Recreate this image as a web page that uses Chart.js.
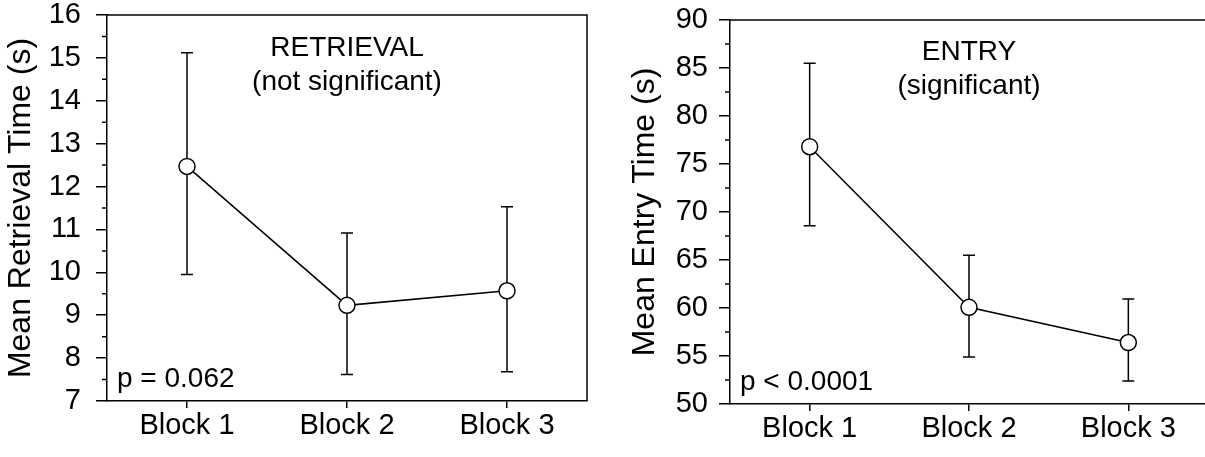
<!DOCTYPE html>
<html>
<head>
<meta charset="utf-8">
<script src="https://cdn.jsdelivr.net/npm/chart.js@4/dist/chart.umd.min.js"></script>
<style>
  html, body { margin: 0; padding: 0; background: #fff; overflow: hidden; width: 1205px; height: 457px; }
  canvas { position: absolute; top: 0; }
  #retrieval { left: 0; }
  #entry { left: 600px; }
</style>
</head>
<body>
<canvas id="retrieval" width="600" height="457"></canvas>
<canvas id="entry" width="620" height="457"></canvas>
<script>
// Categories
const blocks = ['Block 1', 'Block 2', 'Block 3'];

// Retrieval time (s): mean and error-bar ends
const retrievalMean  = [12.47, 9.23, 9.57];
const retrievalUpper = [15.12, 10.92, 11.53];
const retrievalLower = [9.95, 7.62, 7.68];

// Entry time (s): mean and error-bar ends
const entryMean  = [76.8, 60.07, 56.4];
const entryUpper = [85.5, 65.5, 60.94];
const entryLower = [68.57, 54.9, 52.4];

// Labelled y ticks
const retrievalTicks = [7, 8, 9, 10, 11, 12, 13, 14, 15, 16];
const entryTicks = [50, 55, 60, 65, 70, 75, 80, 85, 90];

const FONT = '"Liberation Sans", Arial, Helvetica, sans-serif';
Chart.defaults.color = '#000';
Chart.defaults.font.family = FONT;

// Error bars, plot frame, minor ticks and in-panel notes
const panelPlugin = {
  id: 'panel',
  beforeDatasetsDraw(chart, args, o) {
    const { ctx, scales: { x, y } } = chart;
    ctx.save();
    ctx.strokeStyle = '#000';
    ctx.lineWidth = 1.5;
    o.upper.forEach((hi, i) => {
      const px = x.getPixelForValue(i);
      const yHi = y.getPixelForValue(hi);
      const yLo = y.getPixelForValue(o.lower[i]);
      ctx.beginPath();
      ctx.moveTo(px, yHi); ctx.lineTo(px, yLo);
      ctx.moveTo(px - 6, yHi); ctx.lineTo(px + 6, yHi);
      ctx.moveTo(px - 6, yLo); ctx.lineTo(px + 6, yLo);
      ctx.stroke();
    });
    ctx.restore();
  },
  afterDraw(chart, args, o) {
    const { ctx, chartArea: a, scales: { y } } = chart;
    ctx.save();
    ctx.strokeStyle = '#000';
    ctx.lineWidth = 1.5;
    // top and right edges of the frame
    ctx.beginPath();
    ctx.moveTo(a.left, a.top);
    ctx.lineTo(a.right, a.top);
    ctx.lineTo(a.right, a.bottom);
    ctx.stroke();
    // short minor ticks halfway between labelled ticks
    ctx.beginPath();
    for (let i = 0; i < o.ticks.length - 1; i++) {
      const py = y.getPixelForValue((o.ticks[i] + o.ticks[i + 1]) / 2);
      ctx.moveTo(a.left - 5, py);
      ctx.lineTo(a.left, py);
    }
    ctx.stroke();
    // notes
    ctx.fillStyle = '#000';
    ctx.font = '28px ' + FONT;
    ctx.textAlign = 'center';
    ctx.textBaseline = 'middle';
    const cx = (a.left + a.right) / 2;
    ctx.fillText(o.heading, cx, a.top + o.headingY);
    ctx.fillText(o.sub, cx, a.top + o.headingY + 34);
    ctx.textAlign = 'left';
    ctx.fillText(o.pText, a.left + 10, a.bottom - 22);
    ctx.restore();
  }
};

function makePanel(id, cfg) {
  return new Chart(document.getElementById(id), {
    type: 'line',
    data: {
      labels: blocks,
      datasets: [{
        data: cfg.mean,
        borderColor: '#000',
        borderWidth: 1.5,
        tension: 0,
        pointRadius: 8,
        pointHoverRadius: 8,
        pointBackgroundColor: '#fff',
        pointBorderColor: '#000',
        pointBorderWidth: 1.5
      }]
    },
    plugins: [panelPlugin],
    options: {
      responsive: false,
      animation: false,
      events: [],
      layout: { padding: { top: cfg.padTop, right: cfg.padRight, left: 0, bottom: 0 } },
      plugins: {
        legend: { display: false },
        tooltip: { enabled: false },
        panel: {
          upper: cfg.upper, lower: cfg.lower, ticks: cfg.ticks,
          heading: cfg.heading, sub: cfg.sub, pText: cfg.pText, headingY: cfg.headingY
        }
      },
      scales: {
        x: {
          type: 'category',
          offset: true,
          afterFit: s => { s.height = cfg.xHeight; s.paddingLeft = 0; s.paddingRight = 0; },
          grid: { display: true, drawOnChartArea: false, drawTicks: true, tickLength: 7, color: '#000', lineWidth: 1.5 },
          border: { display: true, color: '#000', width: 1.5 },
          ticks: { font: { size: 29 }, padding: 1, maxRotation: 0 }
        },
        y: {
          min: cfg.ticks[0],
          max: cfg.ticks[cfg.ticks.length - 1],
          afterBuildTicks: s => { s.ticks = cfg.ticks.map(v => ({ value: v })); },
          afterFit: s => { s.width = cfg.yWidth; s.paddingTop = 0; s.paddingBottom = 0; },
          grid: { display: true, drawOnChartArea: false, drawTicks: true, tickLength: 11, color: '#000', lineWidth: 1.5 },
          border: { display: true, color: '#000', width: 1.5 },
          ticks: { font: { size: 29 }, padding: cfg.tickPad },
          title: {
            display: true,
            text: cfg.title,
            font: { size: 32, lineHeight: 1.2 },
            padding: { top: cfg.titlePad, bottom: 0 }
          }
        }
      }
    }
  });
}

makePanel('retrieval', {
  mean: retrievalMean, upper: retrievalUpper, lower: retrievalLower, ticks: retrievalTicks,
  title: 'Mean Retrieval Time (s)', heading: 'RETRIEVAL', sub: '(not significant)', pText: 'p = 0.062',
  padTop: 15, padRight: 13, xHeight: 56, yWidth: 107, tickPad: 15, titlePad: 2, headingY: 33
});

makePanel('entry', {
  mean: entryMean, upper: entryUpper, lower: entryLower, ticks: entryTicks,
  title: 'Mean Entry Time (s)', heading: 'ENTRY', sub: '(significant)', pText: 'p < 0.0001',
  padTop: 20, padRight: 12, xHeight: 53, yWidth: 130, tickPad: 11, titlePad: 26, headingY: 32
});
</script>
</body>
</html>
